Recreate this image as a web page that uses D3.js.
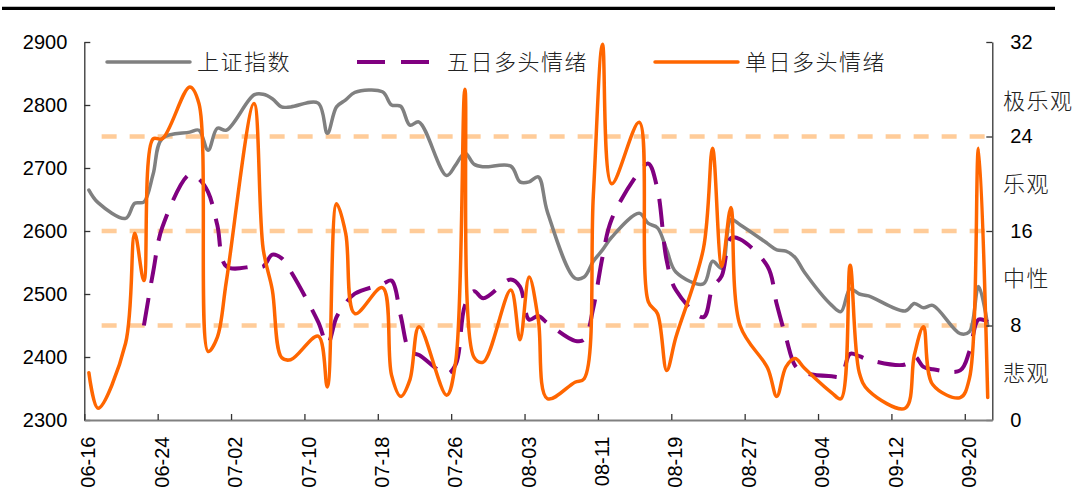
<!DOCTYPE html>
<html>
<head>
<meta charset="utf-8">
<script src="https://cdn.jsdelivr.net/npm/d3@7"></script>
<style>
  body { margin: 0; background: #fff; }
  .num { font-family: "Liberation Sans", Arial, sans-serif; font-size: 20px; fill: #000; }
  .cjk { font-family: "Noto Sans CJK SC", sans-serif; font-weight: 300; font-size: 22px; fill: #222; letter-spacing: 1.5px; }
</style>
</head>
<body>
<div id="chart"></div>
<script>
// trading days (2011)
var days = ["06-16","06-17","06-20","06-21","06-22","06-23","06-24","06-27","06-28","06-29",
            "06-30","07-01","07-04","07-05","07-06","07-07","07-08","07-11","07-12","07-13",
            "07-14","07-15","07-18","07-19","07-20","07-21","07-22","07-25","07-26","07-27",
            "07-28","07-29","08-01","08-02","08-03","08-04","08-05","08-08","08-09","08-10",
            "08-11","08-12","08-15","08-16","08-17","08-18","08-19","08-22","08-23","08-24",
            "08-25","08-26","08-29","08-30","08-31","09-01","09-02","09-05","09-06","09-07",
            "09-08","09-09","09-13","09-14","09-15","09-16","09-19","09-20","09-21","09-22"];

var szIndex = [2665,2645,2620,2644,2646,2690,2747,2757,2760,2728,
               2763,2760,2816,2817,2810,2797,2797,2803,2755,2797,
               2808,2820,2821,2800,2798,2768,2773,2688,2705,2724,
               2706,2702,2703,2678,2678,2686,2630,2525,2527,2552,
               2570,2590,2628,2612,2605,2570,2535,2516,2552,2541,
               2618,2610,2580,2570,2568,2558,2535,2482,2472,2508,
               2500,2497,2473,2485,2478,2482,2437,2440,2512,2450];

var fiveDay = [null,null,null,null,8.0,12.5,16.3,20.8,20.4,19.3,
               16.5,13.0,13.0,13.0,14.0,13.7,12.6,8.3,6.4,8.7,
               9.9,10.7,11.5,11.8,8.8,5.8,5.5,3.9,4.7,9.7,
               10.9,10.3,11.9,11.3,8.5,8.8,8.2,6.7,6.8,9.5,
               13.8,17.0,21.0,21.7,19.5,13.5,11.0,8.7,11.2,12.2,
               15.4,15.3,13.0,9.8,7.0,4.6,4.0,3.7,3.7,5.6,
               5.4,5.1,4.7,5.4,4.5,4.3,4.2,5.8,8.5,8.3];

var oneDay = [4.0,1.0,6.5,15.8,11.8,23.8,23.8,28.2,26.8,5.8,
              7.0,11.8,26.8,14.5,11.0,5.3,5.1,7.1,2.8,18.3,
              15.8,9.0,11.2,3.8,2.0,3.4,7.9,2.1,5.0,28.0,
              5.3,4.9,11.0,6.8,12.1,8.5,1.8,3.2,3.5,19.0,
              31.8,20.0,25.2,10.0,9.0,4.2,7.0,14.5,23.0,13.0,
              18.0,8.0,4.4,2.0,4.5,5.2,4.4,2.3,1.8,13.1,
              4.0,2.5,1.0,5.5,7.9,3.0,1.9,3.5,23.0,1.9];

var xTickLabels = ["06-16","06-24","07-02","07-10","07-18","07-26","08-03",
                   "08-11","08-19","08-27","09-04","09-12","09-20"];
var leftTicks = [2300,2400,2500,2600,2700,2800,2900];
var rightTicks = [0,8,16,24,32];
var zoneLines = [8,16,24];
var zoneNames = ["极乐观","乐观","中性","悲观"];
var zoneAt = [27,20,12,4];
var seriesNames = ["上证指数","五日多头情绪","单日多头情绪"];

var W = 1075, H = 504;
var pLeft = 84.3, pRight = 992.3, pTop = 42, pBottom = 420;

var parse = d3.timeParse("%Y-%m-%d");
function dayOf(s) { return parse("2011-" + s); }
function noon(s) { return d3.timeHour.offset(dayOf(s), 12); }

var svg = d3.select("#chart").append("svg")
    .attr("width", W).attr("height", H);

var x = d3.scaleTime()
    .domain([dayOf("06-16"), dayOf("09-23")])
    .range([pLeft, pRight]);
var yL = d3.scaleLinear().domain([2300, 2900]).range([pBottom, pTop]);
var yR = d3.scaleLinear().domain([0, 32]).range([pBottom, pTop]);

// top rule
svg.append("line")
    .attr("x1", 2).attr("x2", 1055).attr("y1", 8.3).attr("y2", 8.3)
    .attr("stroke", "#000").attr("stroke-width", 3.3);

svg.append("clipPath").attr("id", "plot")
  .append("rect").attr("x", pLeft).attr("y", pTop - 2)
  .attr("width", pRight - pLeft).attr("height", pBottom - pTop + 2);

// zone lines
svg.selectAll(".zone")
    .data(zoneLines)
    .enter().append("line")
    .attr("class", "zone")
    .attr("x1", x(dayOf("06-18")) - 1)
    .attr("x2", pRight)
    .attr("y1", function(d) { return yR(d); })
    .attr("y2", function(d) { return yR(d); })
    .attr("stroke", "#FFCC99")
    .attr("stroke-width", 4.5)
    .attr("stroke-dasharray", "15,13");

var rows = days.map(function(d, i) {
    return { t: noon(d), sz: szIndex[i], five: fiveDay[i], one: oneDay[i] };
});

var plot = svg.append("g").attr("clip-path", "url(#plot)");

var smooth = d3.curveCatmullRom.alpha(0.5);
var lineSz = d3.line()
    .x(function(d) { return x(d.t); })
    .y(function(d) { return yL(d.sz); })
    .curve(smooth);
var lineFive = d3.line()
    .defined(function(d) { return d.five != null; })
    .x(function(d) { return x(d.t); })
    .y(function(d) { return yR(d.five); })
    .curve(smooth);
var lineOne = d3.line()
    .x(function(d) { return x(d.t); })
    .y(function(d) { return yR(d.one); })
    .curve(smooth);

plot.append("path").datum(rows)
    .attr("d", lineSz).attr("fill", "none")
    .attr("stroke", "#808080").attr("stroke-width", 3.5)
    .attr("stroke-linejoin", "round").attr("stroke-linecap", "round");
plot.append("path").datum(rows)
    .attr("d", lineFive).attr("fill", "none")
    .attr("stroke", "#800080").attr("stroke-width", 4)
    .attr("stroke-dasharray", "28,15");
plot.append("path").datum(rows)
    .attr("d", lineOne).attr("fill", "none")
    .attr("stroke", "#FF6600").attr("stroke-width", 3.5)
    .attr("stroke-linejoin", "round").attr("stroke-linecap", "round");

// axes
var axL = svg.append("g").attr("transform", "translate(" + pLeft + ",0)")
    .call(d3.axisLeft(yL).tickValues(leftTicks).tickFormat(d3.format("d"))
        .tickSize(-6).tickSizeOuter(0).tickPadding(17));
var axR = svg.append("g").attr("transform", "translate(" + pRight + ",0)")
    .call(d3.axisRight(yR).tickValues(rightTicks).tickFormat(d3.format("d"))
        .tickSize(-6).tickSizeOuter(0).tickPadding(18));
var axX = svg.append("g").attr("transform", "translate(0," + pBottom + ")")
    .call(d3.axisBottom(x)
        .tickValues(xTickLabels.map(dayOf))
        .tickSize(-6).tickSizeOuter(0)
        .tickFormat(d3.timeFormat("%m-%d")));

[axL, axR].forEach(function(g) {
    g.select(".domain").attr("stroke", "#333").attr("stroke-width", 1.3);
    g.selectAll(".tick line").attr("stroke", "#333").attr("stroke-width", 1.3);
    g.selectAll(".tick text").attr("class", "num").attr("font-size", null).attr("font-family", null);
});
axX.select(".domain").attr("stroke", "#808080").attr("stroke-width", 2);
axX.selectAll(".tick line").attr("stroke", "#333").attr("stroke-width", 1.3);
axX.selectAll(".tick text")
    .attr("class", "num")
    .attr("font-size", null).attr("font-family", null)
    .attr("transform", "rotate(-90)")
    .attr("text-anchor", "end")
    .attr("x", -16.5).attr("y", 0).attr("dy", "0.53em");
svg.selectAll(".tick text").attr("fill", "#000");

// zone names on the right
svg.selectAll(".zname")
    .data(zoneNames)
    .enter().append("text")
    .attr("class", "cjk")
    .attr("x", 1003)
    .attr("y", function(d, i) { return yR(zoneAt[i]); })
    .attr("dy", "0.36em")
    .text(function(d) { return d; });

// legend
var legend = svg.append("g");
var legX = [107, 357, 655];
var legText = [197, 447, 745];
var legColor = ["#808080", "#800080", "#FF6600"];
var legWidth = [3.5, 4, 3.5];
var legDash = [null, "28,16", null];
seriesNames.forEach(function(name, i) {
    legend.append("line")
        .attr("x1", legX[i]).attr("x2", i === 1 ? legX[i] + 73 : legX[i] + 83)
        .attr("y1", 62).attr("y2", 62)
        .attr("stroke", legColor[i]).attr("stroke-width", legWidth[i])
        .attr("stroke-dasharray", legDash[i])
        .attr("stroke-linecap", i === 1 ? "butt" : "round");
    legend.append("text")
        .attr("class", "cjk")
        .attr("x", legText[i]).attr("y", 62).attr("dy", "0.36em")
        .text(name);
});
</script>
</body>
</html>
